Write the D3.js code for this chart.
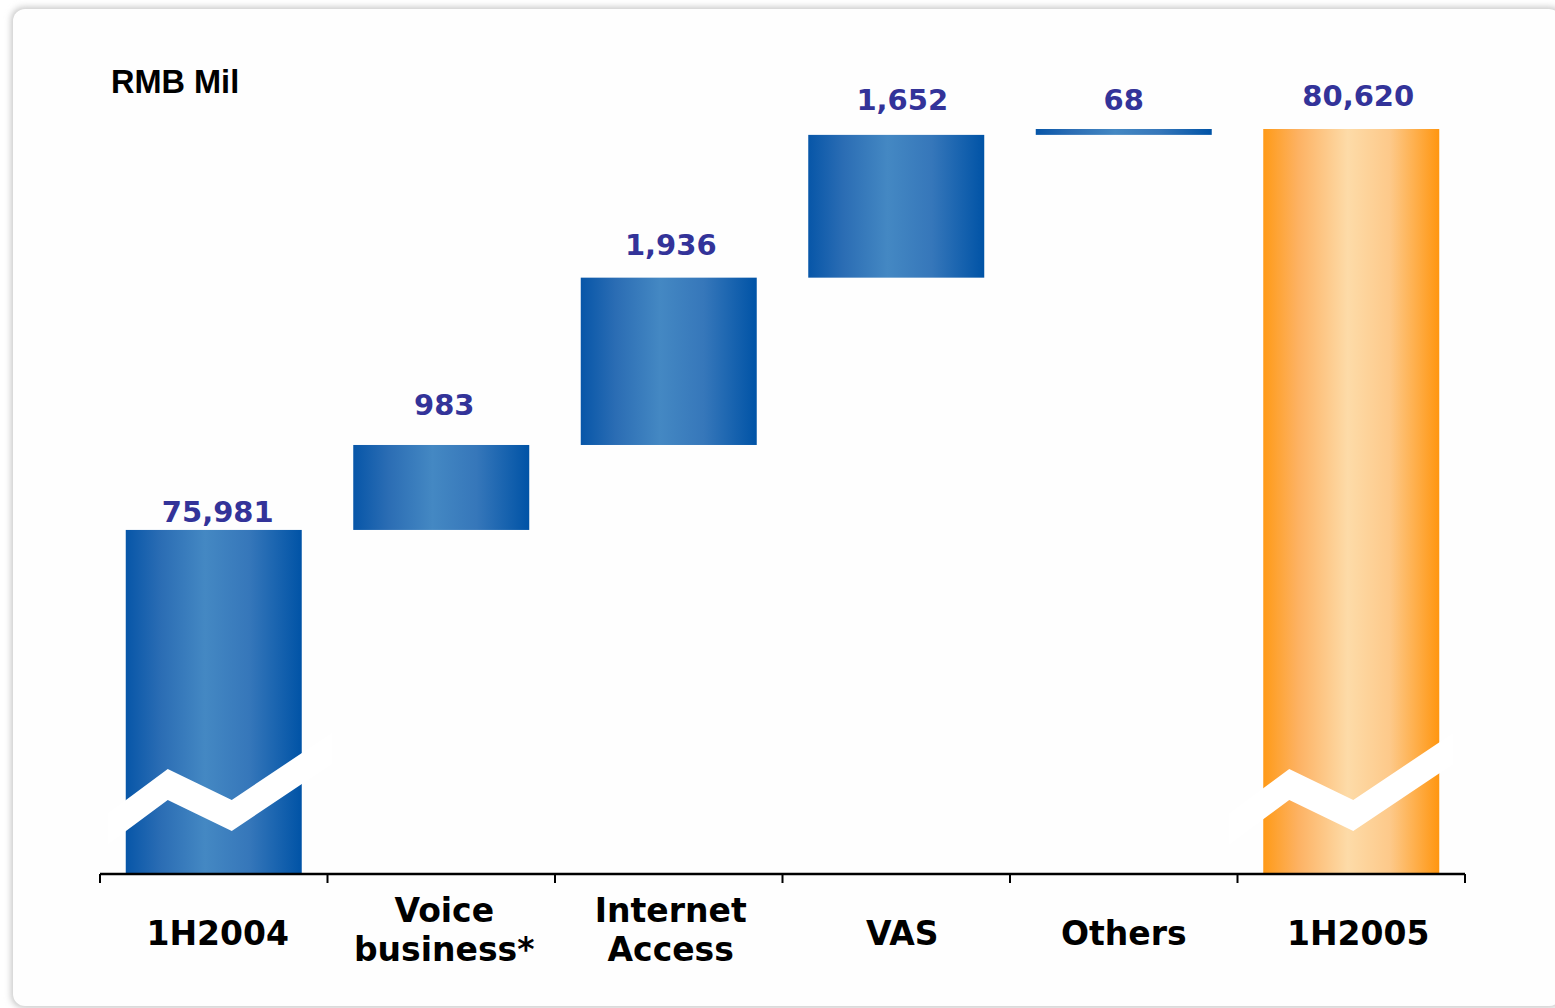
<!DOCTYPE html>
<html>
<head>
<meta charset="utf-8">
<script src="https://cdn.jsdelivr.net/npm/d3@7/dist/d3.min.js"></script>
<style>
  html, body { margin: 0; padding: 0; background: #ffffff; }
  svg { display: block; }
</style>
</head>
<body>
<script>
// Revenue bridge, 1H2004 -> 1H2005 (RMB million)
const categories = ["1H2004", "Voice business*", "Internet Access", "VAS", "Others", "1H2005"];
const categoryLines = [["1H2004"], ["Voice", "business*"], ["Internet", "Access"], ["VAS"], ["Others"], ["1H2005"]];
const values = [75981, 983, 1936, 1652, 68, 80620];
const kinds = ["total", "delta", "delta", "delta", "delta", "total"];
const unitLabel = "RMB Mil";

// Vertical axis starts above zero; total bars carry a break mark
const axisFloor = 72000;

// Layout tuning (not data)
const labelGap = [8, 30, 23, 25, 19, 23];
const labelShift = [4, 3, 2, 6, 0, 7];
const breakPeakOffset = [42, 26];

const W = 1555, H = 1008;
const svg = d3.select("body").append("svg").attr("width", W).attr("height", H);
const defs = svg.append("defs");

// card shadow
const shadow = defs.append("filter").attr("id", "cardShadow")
  .attr("x", "-5%").attr("y", "-5%").attr("width", "110%").attr("height", "110%");
shadow.append("feGaussianBlur").attr("stdDeviation", 3);

const blue = defs.append("linearGradient").attr("id", "gradBlue")
  .attr("x1", "0%").attr("x2", "100%").attr("y1", "0%").attr("y2", "0%");
[[0, "#0756a8"], [0.2, "#2b6db4"], [0.45, "#4488c3"], [0.7, "#3677ba"], [1, "#0053a6"]]
  .forEach(([o, c]) => blue.append("stop").attr("offset", o).attr("stop-color", c));

const orange = defs.append("linearGradient").attr("id", "gradOrange")
  .attr("x1", "0%").attr("x2", "100%").attr("y1", "0%").attr("y2", "0%");
[[0, "#ff9a17"], [0.2, "#fdb263"], [0.48, "#fddba8"], [0.72, "#fdc98a"], [1, "#ff9610"]]
  .forEach(([o, c]) => orange.append("stop").attr("offset", o).attr("stop-color", c));

// card
svg.append("rect").attr("x", 11).attr("y", 7).attr("width", 1552).attr("height", 1001)
  .attr("rx", 13).attr("fill", "#c8c8c8").attr("filter", "url(#cardShadow)");
svg.append("rect").attr("x", 13).attr("y", 9).attr("width", 1548).attr("height", 997)
  .attr("rx", 12).attr("fill", "#fefefe");

// scales
const x = d3.scaleBand().domain(categories).range([100, 1465])
  .paddingInner(0.2264).paddingOuter(0.1132);
const y = d3.scaleLinear().domain([axisFloor, 80620]).range([874, 129]);

// waterfall extents
let running = 0;
const bars = categories.map((c, i) => {
  let lo, hi;
  if (kinds[i] === "total") { lo = axisFloor; hi = values[i]; running = values[i]; }
  else { lo = running; hi = running + values[i]; running = hi; }
  return { cat: c, lo, hi, value: values[i], kind: kinds[i], i };
});

const g = svg.append("g");
g.selectAll("rect.bar").data(bars).join("rect")
  .attr("class", "bar")
  .attr("x", d => x(d.cat))
  .attr("width", x.bandwidth())
  .attr("y", d => y(d.hi))
  .attr("height", d => Math.max(1, y(d.lo) - y(d.hi)))
  .attr("fill", d => d.i === categories.length - 1 ? "url(#gradOrange)" : "url(#gradBlue)");

// break marks across the total bars
const totals = bars.filter(d => d.kind === "total");
const peakY = y(axisFloor) - 105;
const band = 31;
totals.forEach((d, k) => {
  const px = x(d.cat) + breakPeakOffset[k];
  const top = [[px - 60, peakY + 0.74 * 60], [px, peakY], [px + 64, peakY + 31], [px + 164, peakY + 31 - 0.67 * 100]];
  const bottom = top.map(([a, b]) => [a, b + band]).reverse();
  g.append("path")
    .attr("d", d3.line()(top.concat(bottom)) + "Z")
    .attr("fill", "#ffffff");
});

// value labels
g.selectAll("text.val").data(bars).join("text")
  .attr("class", "val")
  .attr("x", d => x(d.cat) + x.bandwidth() / 2 + labelShift[d.i])
  .attr("y", d => y(d.hi) - labelGap[d.i])
  .attr("text-anchor", "middle")
  .attr("font-family", "DejaVu Sans")
  .attr("font-weight", "bold")
  .attr("font-size", 29)
  .attr("fill", "#333399")
  .text(d => d3.format(",")(d.value));

// category axis
const axisY = y(axisFloor);
g.append("line").attr("x1", 100).attr("x2", 1465).attr("y1", axisY).attr("y2", axisY)
  .attr("stroke", "#000").attr("stroke-width", 2.5);
const tickXs = categories.map(c => x(c) - x.step() * x.paddingInner() / 2)
  .concat([x(categories[categories.length - 1]) + x.bandwidth() + x.step() * x.paddingInner() / 2]);
g.selectAll("line.tick").data(tickXs).join("line")
  .attr("class", "tick")
  .attr("x1", d => d).attr("x2", d => d)
  .attr("y1", axisY).attr("y2", axisY + 9)
  .attr("stroke", "#000").attr("stroke-width", 2);

const catText = g.selectAll("text.cat").data(categories).join("text")
  .attr("class", "cat")
  .attr("text-anchor", "middle")
  .attr("font-family", "DejaVu Sans")
  .attr("font-weight", "bold")
  .attr("font-size", 33)
  .attr("fill", "#000");
catText.each(function (c, i) {
  const lines = categoryLines[i];
  const cx = x(c) + x.bandwidth() / 2 + labelShift[i];
  const base = lines.length === 1 ? 945 : 922;
  d3.select(this).selectAll("tspan").data(lines).join("tspan")
    .attr("x", cx)
    .attr("y", (t, j) => base + j * 39)
    .text(t => t);
});

// unit
svg.append("text").attr("x", 111).attr("y", 93)
  .attr("font-family", "Liberation Sans").attr("font-weight", "bold")
  .attr("font-size", 32.5).attr("fill", "#000").text(unitLabel);
</script>
</body>
</html>
